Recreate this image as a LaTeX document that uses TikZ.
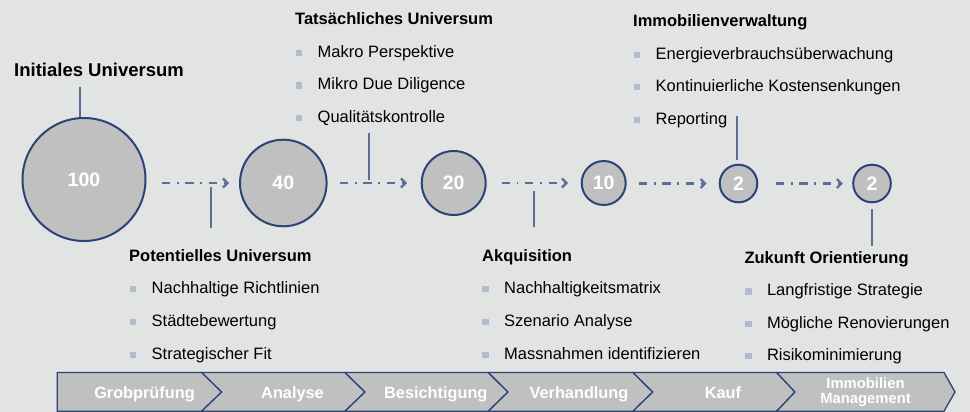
\documentclass[tikz,border=0pt]{standalone}
\usepackage{fontspec}
\setmainfont{Liberation Sans}
\usepackage{tikz}
\usetikzlibrary{arrows.meta}

\definecolor{bgc}{RGB}{226,228,228}
\definecolor{navy}{RGB}{43,68,117}
\definecolor{slate}{RGB}{92,110,152}
\definecolor{disc}{RGB}{192,192,192}
\definecolor{bulc}{RGB}{178,186,204}
\newcommand{\bsq}{\textcolor{bulc}{\rule[1.3pt]{6.5pt}{6.3pt}}\hspace{15.5pt}}

\begin{document}
\begin{tikzpicture}
  [x=1pt,y=-1pt,
    disk/.style={circle,draw=navy,line width=2pt,fill=disc,text=white,inner sep=0pt,
      font=\fontsize{19.5}{20}\selectfont\bfseries},
    flow/.style={draw=slate,line width=2.2pt,
      dash pattern=on 8.3pt off 6.7pt on 1.7pt off 6.7pt,
      -{Straight Barb[length=4.5pt,width=9pt]}},
    link/.style={draw=slate,line width=1.8pt},
    head/.style={anchor=base west,inner sep=0pt,font=\fontsize{16.5}{18}\selectfont\bfseries},
    entry/.style={anchor=base west,inner sep=0pt,font=\fontsize{16.5}{18}\selectfont},
    phase/.style={fill=disc,draw=navy,line width=1.3pt},
    phasetext/.style={anchor=base,text=white,inner sep=0pt,
      font=\fontsize{16.3}{18}\selectfont\bfseries}]
  \fill[bgc] (0,0) rectangle (970,412);
  \useasboundingbox (0,0) rectangle (970,412);

  \node[disk,minimum size=123pt] (c100) at (84,179.5) {100};
  \node[disk,minimum size=86.6pt] (c40) at (283.3,183) {40};
  \node[disk,minimum size=64pt] (c20) at (453.7,183) {20};
  \node[disk,minimum size=44pt] (c10) at (603.7,183) {10};
  \node[disk,minimum size=37.6pt] (c2a) at (738.5,183.5) {2};
  \node[disk,minimum size=37.6pt] (c2b) at (872,183.5) {2};

  \foreach \a/\b/\s/\e in {c100/c40/15.5/10,c40/c20/12.4/13.7,c20/c10/15/12.7,
      c10/c2a/12.3/12,c2a/c2b/17.7/9.3}
    \draw[flow,shorten <=\s pt,shorten >=\e pt] (\a.east |- \b.west) -- (\b.west);

  \foreach \x/\ya/\yb [count=\i] in {80/87/117,211/187/228,369.3/133/180,
      534/190.5/227,736.7/116/160,871.7/209/246}{
    \coordinate (l\i a) at (\x,\ya);
    \coordinate (l\i b) at (\x,\yb);
    \draw[link] (l\i a) -- (l\i b);
  }

  \node[head,font=\fontsize{18.5}{20}\selectfont\bfseries] (hInit) at (14,77) {Initiales Universum};

  \node[head] (hTat) at (295,24.5) {Tatsächliches Universum};
  \foreach \t [count=\i] in {Makro Perspektive,Mikro Due Diligence,Qualitätskontrolle}
    \node[entry] (tat\i) at (295.5,{24.5+32.7*\i}) {\bsq\t};

  \node[head] (hImm) at (633,26.5) {Immobilienverwaltung};
  \foreach \t [count=\i] in {Energieverbrauchsüberwachung,Kontinuierliche Kostensenkungen,Reporting}
    \node[entry] (imm\i) at (633.5,{26.5+32.6*\i}) {\bsq\t};

  \node[head] (hPot) at (129,261) {Potentielles Universum};
  \foreach \t [count=\i] in {Nachhaltige Richtlinien,Städtebewertung,Strategischer Fit}
    \node[entry] (pot\i) at (129.5,{261+32.7*\i}) {\bsq\t};

  \node[head] (hAkq) at (482,261) {Akquisition};
  \foreach \t [count=\i] in {Nachhaltigkeitsmatrix,Szenario Analyse,Massnahmen identifizieren}
    \node[entry] (akq\i) at (482,{261+32.7*\i}) {\bsq\t};

  \node[head] (hZuk) at (744.3,263.5) {Zukunft Orientierung};
  \foreach \t [count=\i] in {Langfristige Strategie,Mögliche Renovierungen,Risikominimierung}
    \node[entry] (zuk\i) at (744.8,{263.5+32.4*\i}) {\bsq\t};

  \foreach \l/\n/\r/\t in {57.3/57.3/201.7/221.7,201.7/221.7/345/365,345/365/488.3/508,
      488.3/508/633/652.7,633/652.7/776.7/795,776.7/795/944/955}
    \draw[phase] (\l,372.5) -- (\r,372.5) -- (\t,392) -- (\r,411.2) -- (\l,411.2) -- (\n,392) -- cycle;

  \foreach \x/\t [count=\i] in {144.5/Grobprüfung,292.5/Analyse,435.8/Besichtigung,
      579/Verhandlung,723/Kauf}
    \node[phasetext] (ph\i) at (\x,398.3) {\t};
  \node[phasetext,anchor=center,align=center,font=\fontsize{14.8}{14.6}\selectfont\bfseries]
    (ph6) at (865.5,392.5) {Immobilien\\Management};
\end{tikzpicture}
\end{document}
